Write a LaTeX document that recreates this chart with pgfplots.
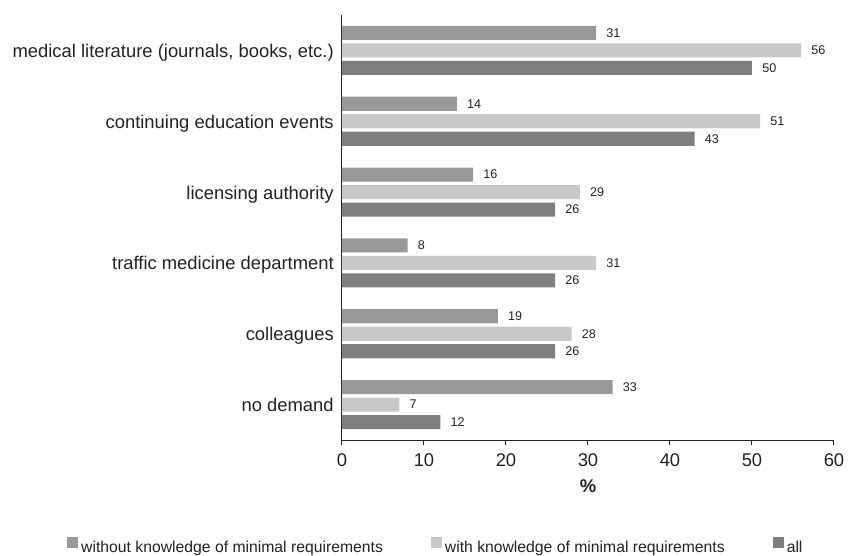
\documentclass[border=0pt]{standalone}
\usepackage{pgfplots}
\pgfplotsset{compat=1.18}
\usepackage{fontspec}
\setmainfont{Liberation Sans}
\definecolor{cwo}{HTML}{999999}
\definecolor{cwi}{HTML}{C8C8C8}
\definecolor{call}{HTML}{7F7F7F}
\definecolor{txt}{HTML}{222222}
\begin{document}
\begin{tikzpicture}
\path[use as bounding box] (-256.5pt,-87pt) rectangle (387pt,330pt);
\begin{axis}[
  at={(0,0)}, anchor=south west,
  scale only axis, width=369pt, height=318.75pt,
  xmin=0, xmax=60, ymin=-0.5, ymax=5.5, y dir=reverse,
  xbar, bar width=0.198, bar shift=0pt,
  axis x line*=bottom, axis y line*=left,
  axis line style={line width=0.75pt, color=txt, -},
  xtick={0,10,...,60}, ytick={0,...,5},
  yticklabels={{medical literature (journals, books, etc.)},continuing education events,licensing authority,traffic medicine department,colleagues,no demand},
  tick align=outside, major tick length=3.75pt,
  x tick style={line width=0.75pt, color=txt},
  y tick style={draw=none},
  /pgf/number format/assume math mode=true,
  tick label style={font=\fontsize{13.8pt}{15pt}\selectfont, color=txt},
  xticklabel style={inner sep=0pt, anchor=north, yshift=-6pt},
  yticklabel style={inner sep=0pt, anchor=base east, xshift=-2.25pt, yshift=-5.25pt},
  xlabel={\textbf{\%}},
  xlabel style={at={(axis description cs:0.5,0)}, anchor=center, yshift=-34.5pt, font=\fontsize{13.8pt}{15pt}\selectfont, color=txt},
  nodes near coords,
  every node near coord/.append style={anchor=west, inner sep=0pt, xshift=7.5pt, font=\fontsize{9.45pt}{11pt}\selectfont, color=txt},
  legend columns=3,
  legend style={draw=none, fill=none, at={(axis description cs:-0.559,-0.249)}, anchor=west, inner sep=0pt,
    font=\fontsize{11.8pt}{13pt}\selectfont, text=txt,
    nodes={inner sep=0pt},
    /tikz/every odd column/.append style={column sep=2.25pt},
    /tikz/every even column/.append style={column sep=36pt}},
  legend cell align=left,
  legend image code/.code={\fill[#1] (0pt,0pt) rectangle (8.25pt,8.25pt);},
]
\addplot[fill=cwo, draw=none, bar shift=0pt] coordinates {(31,-0.247) (14,0.753) (16,1.753) (8,2.753) (19,3.753) (33,4.753)};
\addplot[fill=cwi, draw=none, bar shift=0pt] coordinates {(56,0) (51,1) (29,2) (31,3) (28,4) (7,5)};
\addplot[fill=call, draw=none, bar shift=0pt] coordinates {(50,0.247) (43,1.247) (26,2.247) (26,3.247) (26,4.247) (12,5.247)};
\legend{without knowledge of minimal requirements,with knowledge of minimal requirements,all}
\end{axis}
\end{tikzpicture}
\end{document}
